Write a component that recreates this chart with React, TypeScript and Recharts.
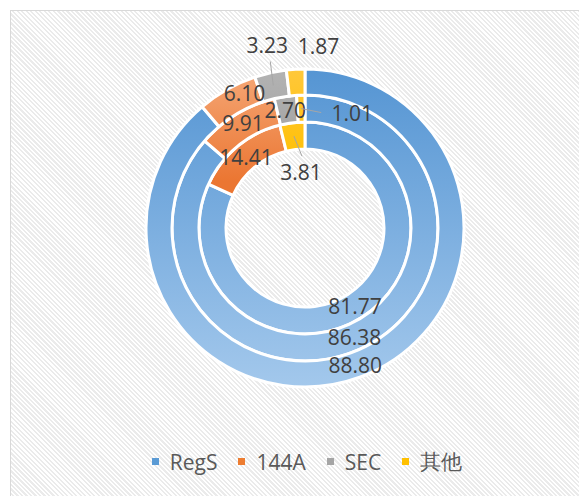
import { PieChart, Pie, Cell, Legend } from 'recharts';

const CATEGORIES = ['RegS', '144A', 'SEC', '其他'];
const OUTER = [88.8, 6.1, 3.23, 1.87];
const MIDDLE = [86.38, 9.91, 2.7, 1.01];
const INNER = [81.77, 14.41, 0, 3.81];

const FILLS = ['url(#gBlue)', 'url(#gOrange)', 'url(#gGray)', 'url(#gYellow)'];
const SOLID = ['#5b9bd5', '#ed7d31', '#a5a5a5', '#ffc000'];

// label nudges (px) and optional leader lines, keyed by ring then category
const NUDGE: Record<string, { dx: number; dy: number; line?: [number, number] }> = {
  'outer-1': { dx: 11, dy: -8 },
  'outer-2': { dx: -6, dy: -40, line: [-3, -24] },
  'outer-3': { dx: 22, dy: -36 },
  'middle-1': { dx: 0, dy: -3 },
  'middle-2': { dx: -2, dy: 0 },
  'middle-3': { dx: 51, dy: 4, line: [20, 4] },
  'inner-3': { dx: 7, dy: 36, line: [8, 20] },
};

const RAD = Math.PI / 180;
const W = 577;
const H = 486;
const CX = 294;
const CY = 217;

const toRows = (vals: number[]) => CATEGORIES.map((name, i) => ({ name, value: vals[i] }));

function makeLabel(ring: string) {
  return (props: any) => {
    const { cx, cy, midAngle, innerRadius, outerRadius, value, index } = props;
    if (!value) return null;
    const r = (innerRadius + outerRadius) / 2;
    const x0 = cx + r * Math.cos(-midAngle * RAD);
    const y0 = cy + r * Math.sin(-midAngle * RAD);
    const n = NUDGE[`${ring}-${index}`] || { dx: 0, dy: 0 };
    return (
      <g>
        {n.line && (
          <line x1={x0} y1={y0} x2={x0 + n.line[0]} y2={y0 + n.line[1]} stroke="#a6a6a6" strokeWidth={1} />
        )}
        <text
          x={x0 + n.dx}
          y={y0 + n.dy}
          textAnchor="middle"
          dominantBaseline="central"
          fill="#404040"
          fontSize={21}
          fontFamily="'Open Sans', sans-serif"
        >
          {Number(value).toFixed(2)}
        </text>
      </g>
    );
  };
}

function LegendBox() {
  return (
    <div
      style={{
        display: 'flex',
        justifyContent: 'center',
        alignItems: 'center',
        paddingLeft: 15,
        fontFamily: "'Open Sans', sans-serif",
        fontSize: 21,
        color: '#595959',
      }}
    >
      {CATEGORIES.map((c, i) => (
        <div key={c} style={{ display: 'flex', alignItems: 'center', marginRight: i < 3 ? 21 : 0 }}>
          <span style={{ width: 7, height: 7, background: SOLID[i], display: 'inline-block', marginRight: 11 }} />
          <span>{c}</span>
        </div>
      ))}
    </div>
  );
}

export default function App() {
  const rings = [
    { key: 'inner', data: toRows(INNER), ir: 79, or: 106 },
    { key: 'middle', data: toRows(MIDDLE), ir: 106, or: 133 },
    { key: 'outer', data: toRows(OUTER), ir: 133, or: 159 },
  ];
  return (
    <div
      style={{
        margin: '2px 0 0 2px',
        width: W,
        height: H,
        border: '1px solid #d9d9d9',
        background: 'repeating-linear-gradient(45deg, #ffffff 0px, #ffffff 1.6px, #ebebeb 1.6px, #ebebeb 3.2px)',
      }}
    >
      <PieChart width={W} height={H} margin={{ top: 0, right: 0, bottom: 0, left: 0 }}>
        <defs>
          <linearGradient id="gBlue" gradientUnits="userSpaceOnUse" x1="0" y1="58" x2="0" y2="376">
            <stop offset="0" stopColor="#5595d3" />
            <stop offset="1" stopColor="#a3c8ec" />
          </linearGradient>
          <linearGradient id="gOrange" gradientUnits="userSpaceOnUse" x1="0" y1="58" x2="0" y2="170">
            <stop offset="0" stopColor="#f5a877" />
            <stop offset="1" stopColor="#eb7632" />
          </linearGradient>
          <linearGradient id="gGray" gradientUnits="userSpaceOnUse" x1="0" y1="58" x2="0" y2="140">
            <stop offset="0" stopColor="#b3b3b3" />
            <stop offset="1" stopColor="#a2a2a2" />
          </linearGradient>
          <linearGradient id="gYellow" gradientUnits="userSpaceOnUse" x1="0" y1="58" x2="0" y2="160">
            <stop offset="0" stopColor="#ffc83a" />
            <stop offset="1" stopColor="#ffbf00" />
          </linearGradient>
        </defs>
        {rings.map((r) => (
          <Pie
            key={r.key}
            data={r.data}
            dataKey="value"
            nameKey="name"
            cx={CX}
            cy={CY}
            innerRadius={r.ir}
            outerRadius={r.or}
            startAngle={90}
            endAngle={-270}
            stroke="#ffffff"
            strokeWidth={3}
            label={makeLabel(r.key)}
            labelLine={false}
            isAnimationActive={false}
          >
            {r.data.map((d, i) => (
              <Cell key={d.name} fill={FILLS[i]} />
            ))}
          </Pie>
        ))}
        <Legend content={() => <LegendBox />} wrapperStyle={{ top: 436, left: 0, width: W, height: 32 }} />
      </PieChart>
    </div>
  );
}
